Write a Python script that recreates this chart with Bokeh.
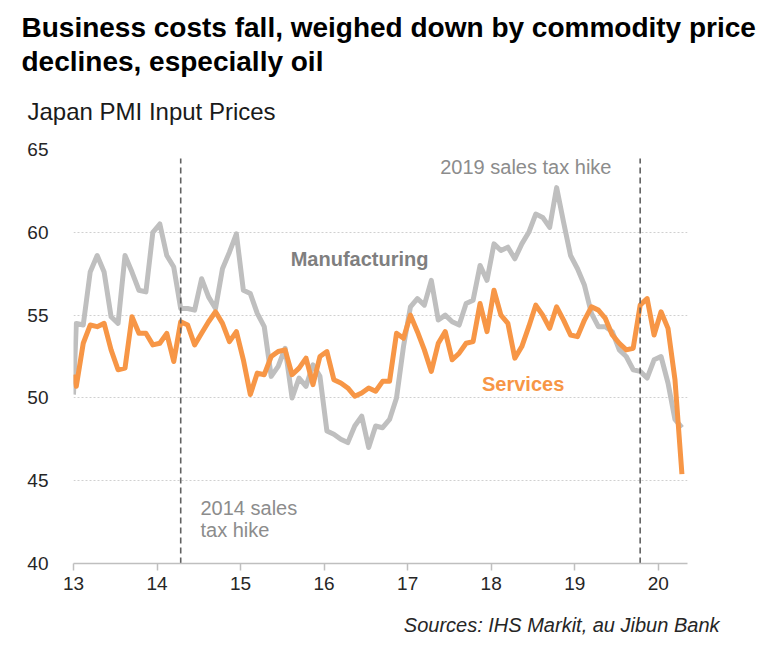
from bokeh.plotting import figure
from bokeh.models import Label, Range1d, FixedTicker, ColumnDataSource, Title
from bokeh.embed import file_html
from bokeh.resources import INLINE

# ---------------- data ----------------
year_ticks = [13, 14, 15, 16, 17, 18, 19, 20]
y_ticks = [40, 45, 50, 55, 60, 65]
grid_ticks = [45, 50, 55, 60, 65]

# monthly values, Jan 2013 .. Apr 2020
manufacturing = [
    54.5, 54.4, 57.6, 58.6, 57.6, 54.9, 54.5, 58.6, 57.6, 56.5, 56.4, 60.0,
    60.5, 58.6, 57.9, 55.4, 55.4, 55.3, 57.2, 56.1, 55.4, 57.8, 58.8, 59.9,
    56.5, 56.3, 55.1, 54.3, 51.3, 51.9, 53.0, 50.0, 51.2, 50.7, 52.0, 51.3,
    48.0, 47.8, 47.5, 47.3, 48.3, 48.9, 47.0, 48.3, 48.2, 48.7, 50.0, 53.1,
    55.5, 56.0, 55.6, 57.1, 54.7, 55.0, 54.6, 54.4, 55.7, 55.9, 58.0, 57.1,
    59.3, 58.9, 59.1, 58.4, 59.3, 60.0, 61.1, 60.9, 60.3, 62.7, 60.6, 58.6,
    57.8, 56.8, 55.1, 54.3, 54.3, 54.0, 52.9, 52.5, 51.7, 51.6, 51.2, 52.3,
    52.5, 50.9, 48.7, 48.2,
]
services = [
    50.7, 53.3, 54.4, 54.3, 54.5, 52.9, 51.7, 51.8, 54.9, 53.9, 53.9, 53.2,
    53.3, 53.9, 52.2, 54.6, 54.4, 53.2, 53.9, 54.6, 55.2, 54.5, 53.4, 54.0,
    52.3, 50.2, 51.5, 51.4, 52.5, 52.8, 52.9, 51.4, 51.8, 52.4, 50.8, 52.5,
    52.8, 51.1, 50.9, 50.6, 50.1, 50.3, 50.6, 50.4, 51.0, 51.0, 53.9, 53.6,
    55.0, 54.0, 52.9, 51.6, 53.3, 54.0, 52.3, 52.7, 53.3, 53.4, 55.7, 54.0,
    56.5, 55.0, 54.5, 52.4, 53.1, 54.3, 55.6, 55.0, 54.2, 55.5, 54.7, 53.8,
    53.7, 54.7, 55.5, 55.3, 54.8, 53.8, 53.3, 52.9, 53.0, 55.6, 56.0, 53.8,
    55.2, 54.2, 51.1, 45.4,
]
# value at the very start of the axis (line begins there)
mfg_start = 50.2
svc_start = 51.4

first_year = 13
month_offset = 0.4
tax_hikes = [(14, 4), (19, 10)]  # (year, month)

title_lines = ["Business costs fall, weighed down by commodity price",
               "declines, especially oil"]
subtitle = "Japan PMI Input Prices"
source_text = "Sources: IHS Markit, au Jibun Bank"


def month_x(i):
    return first_year + (i + month_offset) / 12.0


n = len(manufacturing)
xs = [float(first_year)] + [month_x(i) for i in range(n)]
src = ColumnDataSource(dict(x=xs,
                            mfg=[mfg_start] + manufacturing,
                            svc=[svc_start] + services))

hike_x = [month_x((y - first_year) * 12 + (m - 1)) for (y, m) in tax_hikes]

FONT = "Liberation Sans"
GRAY = "#BFBFBF"
ORANGE = "#F79646"

p = figure(width=768, height=656, output_backend="svg", toolbar_location=None,
           x_range=Range1d(13, 20.35), y_range=Range1d(40, 65),
           min_border_left=73, min_border_right=81,
           min_border_top=149, min_border_bottom=93)
p.outline_line_color = None

# titles (added nearest-first)
p.add_layout(Title(text=subtitle, text_font=FONT, text_font_size="24px",
                   text_font_style="normal", text_color="#1A1A1A",
                   align="left", vertical_align="middle",
                   offset=-46, standoff=48), "above")
p.add_layout(Title(text=title_lines[1], text_font=FONT, text_font_size="28px",
                   text_font_style="bold", text_color="#000000",
                   align="left", offset=-52, standoff=-8), "above")
p.add_layout(Title(text=title_lines[0], text_font=FONT, text_font_size="28px",
                   text_font_style="bold", text_color="#000000",
                   align="left", offset=-52, standoff=9), "above")
p.add_layout(Title(text=source_text, text_font=FONT, text_font_size="20px",
                   text_font_style="italic", text_color="#262626",
                   align="right", vertical_align="bottom",
                   offset=-32, standoff=38), "below")

p.xgrid.visible = False
p.ygrid.ticker = FixedTicker(ticks=grid_ticks)
p.ygrid.grid_line_color = "#D0D0D0"
p.ygrid.grid_line_dash = "2 2"
p.ygrid.grid_line_width = 1

p.xaxis.ticker = FixedTicker(ticks=year_ticks)
p.xaxis.axis_line_color = "#BFBFBF"
p.xaxis.axis_line_width = 1.5
p.xaxis.major_tick_line_color = "#BFBFBF"
p.xaxis.major_tick_line_width = 1.5
p.xaxis.major_tick_out = 7
p.xaxis.major_tick_in = 0
p.xaxis.minor_tick_line_color = None
p.xaxis.major_label_standoff = 6
p.xaxis.major_label_text_font = FONT
p.xaxis.major_label_text_font_size = "19px"
p.xaxis.major_label_text_color = "#262626"

p.yaxis.ticker = FixedTicker(ticks=y_ticks)
p.yaxis.axis_line_color = None
p.yaxis.major_tick_line_color = None
p.yaxis.minor_tick_line_color = None
p.yaxis.major_label_standoff = 19
p.yaxis.major_label_text_font = FONT
p.yaxis.major_label_text_font_size = "19px"
p.yaxis.major_label_text_color = "#262626"

p.line("x", "mfg", source=src, line_color=GRAY, line_width=5, line_join="round")
p.line("x", "svc", source=src, line_color=ORANGE, line_width=5, line_join="round")

p.segment(x0=hike_x, x1=hike_x, y0=[40, 40], y1=[64.45, 64.45],
          line_color="#606060", line_width=1.6, line_dash="6 4")


def add_label(x, y, text, size, color, style="normal"):
    p.add_layout(Label(x=x, y=y, text=text, text_font=FONT,
                       text_font_size=size, text_color=color,
                       text_font_style=style, text_align="left",
                       text_baseline="middle"))


add_label(15.60, 58.36, "Manufacturing", "20px", "#7F7F7F", "bold")
add_label(17.89, 50.81, "Services", "20px", ORANGE, "bold")
add_label(17.39, 63.97, "2019 sales tax hike", "20px", "#8C8C8C")
add_label(14.52, 43.38, "2014 sales", "20px", "#8C8C8C")
add_label(14.52, 42.05, "tax hike", "20px", "#8C8C8C")

open("out.html", "w").write(file_html(p, INLINE))
